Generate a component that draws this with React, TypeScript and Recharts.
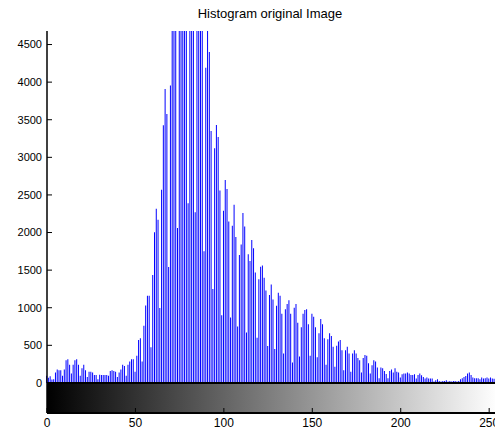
import { BarChart, Bar, XAxis, YAxis, ReferenceArea, ReferenceLine } from 'recharts';

// gray levels 0..255 (one bin per level)
const LEVELS = Array.from({ length: 256 }, (_, i) => i);

// pixel counts per gray level (the tall ones are cut by the axis)
const COUNTS = [
  95, 70, 90, 45, 50, 140, 180, 170, 170, 95,
  180, 300, 315, 240, 125, 240, 300, 315, 240, 95,
  195, 240, 170, 80, 150, 150, 140, 105, 105, 50,
  110, 105, 105, 105, 105, 95, 160, 170, 160, 150,
  80, 140, 180, 240, 225, 95, 240, 285, 315, 315,
  150, 360, 570, 595, 285, 760, 1030, 1160, 1160, 475,
  1435, 2005, 2315, 2170, 995, 2570, 3425, 3910, 3575, 1540,
  3955, 5200, 6100, 5600, 2060, 6500, 7000, 6800, 5900, 6200,
  2390, 6000, 6400, 5800, 2270, 5500, 5300, 5000, 4900, 1750,
  4190, 5100, 4400, 3350, 1250, 3120, 3430, 3270, 2560, 900,
  2290, 2700, 2580, 2145, 870, 2090, 2370, 1940, 750, 1700,
  1840, 2260, 2080, 670, 1710, 1620, 1900, 1790, 1470, 600,
  1380, 1545, 1560, 1400, 1230, 490, 1170, 1310, 1110, 450,
  1025, 1200, 1160, 920, 390, 980, 1050, 1100, 920, 270,
  1000, 1050, 800, 350, 740, 920, 970, 980, 780, 360,
  920, 880, 740, 340, 660, 850, 780, 595, 240, 580,
  660, 625, 480, 215, 495, 550, 570, 435, 170, 435,
  480, 390, 150, 390, 435, 390, 330, 300, 140, 330,
  370, 360, 260, 125, 235, 300, 285, 205, 62, 205,
  195, 160, 120, 62, 160, 180, 140, 195, 150, 140,
  71, 115, 124, 124, 138, 124, 107, 107, 115, 58,
  107, 124, 102, 80, 58, 71, 58, 58, 58, 18,
  36, 49, 27, 18, 27, 27, 36, 18, 27, 18,
  27, 27, 18, 27, 49, 62, 80, 93, 124, 138,
  107, 71, 62, 62, 62, 49, 71, 58, 62, 71,
  58, 71, 60, 55, 70, 125,
];

const X_TICKS = [0, 50, 100, 150, 200, 250];
const Y_TICKS = [0, 500, 1000, 1500, 2000, 2500, 3000, 3500, 4000, 4500];

const data = LEVELS.map((level, i) => ({ level, count: COUNTS[i] }));

const FONT = '"Liberation Sans", Arial, sans-serif';
const noLabel = () => '';

export default function App() {
  return (
    <div
      style={{
        position: 'absolute',
        left: 0,
        top: 0,
        width: 495,
        height: 430,
        overflow: 'hidden',
        background: '#fff',
        fontFamily: FONT,
      }}
    >
      <svg width={0} height={0} style={{ position: 'absolute' }}>
        <defs>
          <linearGradient id="grayRamp" x1="0" y1="0" x2="1" y2="0">
            <stop offset="0" stopColor="#000" />
            <stop offset="1" stopColor="#fff" />
          </linearGradient>
        </defs>
      </svg>
      <div
        style={{
          position: 'absolute',
          left: 0,
          top: 6,
          width: 540,
          textAlign: 'center',
          fontSize: 13,
          lineHeight: '15px',
          color: '#000',
        }}
      >
        Histogram original Image
      </div>
      <BarChart
        width={520}
        height={430}
        data={data}
        margin={{ top: 31, right: 22, bottom: 0, left: 0 }}
      >
        <XAxis
          dataKey="level"
          type="number"
          domain={[0, 255]}
          ticks={X_TICKS}
          height={17}
          tickSize={-5}
          tickMargin={10}
          axisLine={{ stroke: '#000', strokeWidth: 2 }}
          tickLine={{ stroke: '#000' }}
          tick={{ fill: '#000', fontSize: 12, fontFamily: FONT }}
        />
        <XAxis
          xAxisId="top"
          orientation="top"
          type="number"
          domain={[0, 255]}
          ticks={X_TICKS}
          height={0}
          tickSize={-5}
          tickFormatter={noLabel}
          axisLine={{ stroke: '#000' }}
          tickLine={{ stroke: '#000' }}
        />
        <YAxis
          domain={[-400, 4680]}
          ticks={Y_TICKS}
          allowDataOverflow
          width={47}
          tickSize={-5}
          tickMargin={10}
          axisLine={{ stroke: '#000', strokeWidth: 1.5 }}
          tickLine={{ stroke: '#000' }}
          tick={{ fill: '#000', fontSize: 11, fontFamily: FONT }}
        />
        <YAxis
          yAxisId="right"
          orientation="right"
          domain={[-400, 4680]}
          ticks={Y_TICKS}
          allowDataOverflow
          width={0}
          tickSize={-5}
          tickFormatter={noLabel}
          axisLine={{ stroke: '#000' }}
          tickLine={{ stroke: '#000' }}
        />
        <ReferenceArea
          x1={0}
          x2={255}
          y1={-400}
          y2={0}
          fill="url(#grayRamp)"
          fillOpacity={1}
          stroke="none"
        />
        <Bar dataKey="count" fill="#0000ff" barSize={1} isAnimationActive={false} />
        <ReferenceLine y={0} stroke="#000" strokeWidth={2} />
      </BarChart>
    </div>
  );
}
